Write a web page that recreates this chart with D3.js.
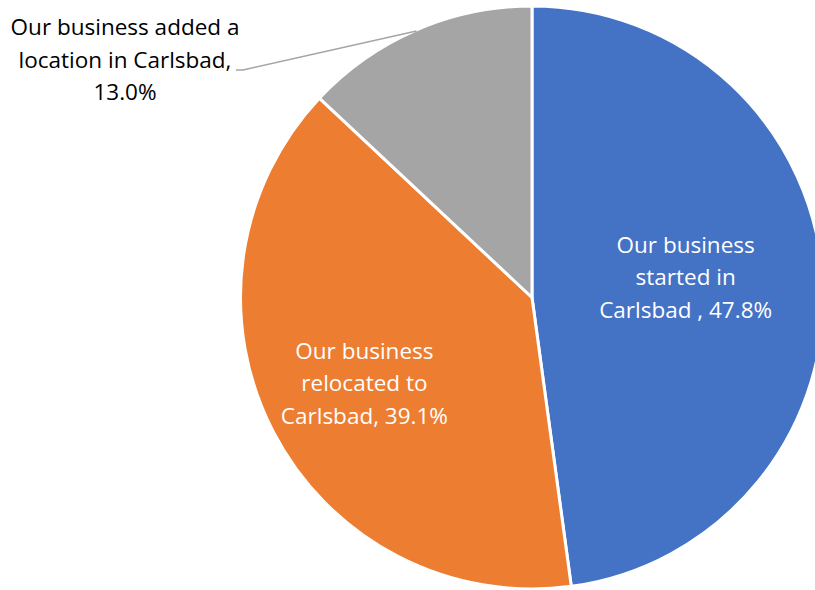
<!DOCTYPE html>
<html>
<head>
<meta charset="utf-8">
<script src="https://cdn.jsdelivr.net/npm/d3@7"></script>
<style>
  body { margin: 0; background: #fff; }
  text { font-family: "Open Sans", "Noto Sans", sans-serif; }
</style>
</head>
<body>
<svg id="chart"></svg>
<script>
// slices, clockwise from 12 o'clock
var categories = ["Our business started in Carlsbad", "Our business relocated to Carlsbad", "Our business added a location in Carlsbad"];
var values = [47.8, 39.1, 13.0];
var labelLines = [
  ["Our business", "started in", "Carlsbad , 47.8%"],
  ["Our business", "relocated to", "Carlsbad, 39.1%"],
  ["Our business added a", "location in Carlsbad,", "13.0%"]
];
var colors = ["#4472C4", "#ED7D31", "#A5A5A5"];

var width = 815,
    height = 590,
    cx = 532,
    cy = 297.5,
    radius = 291.5;

var svg = d3.select("#chart")
    .attr("width", width)
    .attr("height", height);

var g = svg.append("g")
    .attr("transform", "translate(" + cx + "," + cy + ")");

var pie = d3.pie().sort(null).value(function(d) { return d; });
var arcs = pie(values);

var arc = d3.arc().innerRadius(0).outerRadius(radius);

g.selectAll("path")
    .data(arcs)
    .enter()
    .append("path")
    .attr("d", arc)
    .attr("fill", function(d, i) { return colors[i]; })
    .style("stroke", "#fff")
    .style("stroke-width", 3)
    .style("stroke-linejoin", "round");

var fontSize = "22.5px";

// inside labels
var insideR = [156, 192];
var shiftX = [-2, 3];
var shiftY = [-1.5, 5.5];
var lineH = 32.5;
arcs.forEach(function(d, i) {
  if (i > 1) return;
  var a = (d.startAngle + d.endAngle) / 2;
  var x = insideR[i] * Math.sin(a) + shiftX[i],
      y = -insideR[i] * Math.cos(a) + shiftY[i];
  var t = g.append("text")
      .attr("text-anchor", "middle")
      .attr("fill", "#fff")
      .style("font-size", fontSize);
  labelLines[i].forEach(function(s, k) {
    t.append("tspan")
      .attr("x", x)
      .attr("y", y + (k - 1) * lineH)
      .text(s);
  });
});

// outside label with leader line for the small slice
var gray = arcs[2];
var ga = (gray.startAngle + gray.endAngle) / 2;
var ex = (radius - 1) * Math.sin(ga), ey = -(radius - 1) * Math.cos(ga);
var lx = 125 - cx, ly = 35 - cy;

g.append("polyline")
    .attr("points", [[lx + 111, ly + 35], [lx + 118, ly + 35], [ex, ey]].map(function(p) { return p.join(","); }).join(" "))
    .attr("fill", "none")
    .style("stroke", "#A5A5A5")
    .style("stroke-width", 1.5);

var t2 = g.append("text")
    .attr("text-anchor", "middle")
    .attr("fill", "#000")
    .style("font-size", fontSize);
labelLines[2].forEach(function(s, k) {
  t2.append("tspan")
    .attr("x", lx)
    .attr("y", ly + k * lineH)
    .text(s);
});
</script>
</body>
</html>
